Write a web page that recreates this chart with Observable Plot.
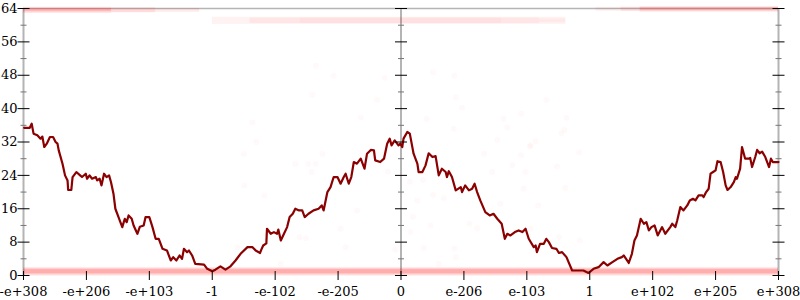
<!DOCTYPE html>
<html><head><meta charset="utf-8">
<script src="https://cdn.jsdelivr.net/npm/d3@7"></script>
<script src="https://cdn.jsdelivr.net/npm/@observablehq/plot@0.6"></script>
<style>html,body{margin:0;padding:0;background:#fff}svg{display:block}</style>
</head><body><div id="chart"></div>
<script>
// x positions are in "tick units" along the ordered float axis (-6 .. 6)
const xTickPositions = [-6,-5,-4,-3,-2,-1,0,1,2,3,4,5,6];
const xTickLabels = ["-e+308","-e+206","-e+103","-1","-e-102","-e-205","0","e-206","e-103","1","e+102","e+205","e+308"];
const yMajorTicks = [0,8,16,24,32,40,48,56,64];
const yMinorTicks = [4,12,20,28,36,44,52,60];
const axisPositions = [-6,0,6];

// moving average line
const lineX = [-5.99,-5.90,-5.87,-5.84,-5.78,-5.73,-5.70,-5.67,-5.63,-5.58,-5.53,-5.49,-5.46,-5.44,-5.38,-5.34,-5.30,-5.29,-5.24,-5.22,-5.16,-5.10,-5.07,-5.01,-4.99,-4.95,-4.91,-4.85,-4.83,-4.79,-4.76,-4.72,-4.68,-4.64,-4.61,-4.57,-4.54,-4.49,-4.46,-4.43,-4.39,-4.36,-4.33,-4.28,-4.25,-4.19,-4.15,-4.09,-4.06,-4.00,-3.95,-3.90,-3.85,-3.79,-3.72,-3.66,-3.62,-3.57,-3.52,-3.48,-3.45,-3.40,-3.37,-3.32,-3.27,-3.13,-3.08,-3.00,-2.95,-2.87,-2.79,-2.71,-2.63,-2.55,-2.44,-2.36,-2.31,-2.24,-2.22,-2.19,-2.14,-2.13,-2.07,-2.02,-1.97,-1.95,-1.91,-1.86,-1.81,-1.77,-1.72,-1.68,-1.62,-1.57,-1.53,-1.47,-1.39,-1.31,-1.26,-1.23,-1.17,-1.12,-1.07,-1.01,-0.96,-0.91,-0.88,-0.83,-0.79,-0.75,-0.70,-0.64,-0.58,-0.54,-0.48,-0.43,-0.41,-0.33,-0.27,-0.22,-0.18,-0.15,-0.10,-0.04,-0.01,0.02,0.04,0.10,0.14,0.20,0.26,0.28,0.34,0.39,0.44,0.50,0.55,0.60,0.65,0.71,0.73,0.76,0.81,0.87,0.95,0.97,1.02,1.08,1.13,1.17,1.21,1.26,1.34,1.41,1.47,1.53,1.60,1.65,1.69,1.74,1.81,1.87,1.93,1.98,2.03,2.11,2.14,2.16,2.21,2.27,2.31,2.35,2.40,2.47,2.51,2.56,2.63,2.72,2.90,2.98,3.06,3.14,3.22,3.28,3.36,3.44,3.51,3.54,3.62,3.67,3.71,3.75,3.81,3.86,3.90,3.94,3.98,4.03,4.08,4.15,4.20,4.28,4.31,4.36,4.39,4.44,4.49,4.55,4.59,4.64,4.68,4.73,4.79,4.81,4.85,4.89,4.92,4.96,5.00,5.03,5.08,5.12,5.16,5.19,5.24,5.29,5.32,5.34,5.39,5.42,5.47,5.53,5.55,5.58,5.63,5.66,5.70,5.74,5.79,5.85,5.88,5.91,6.00];
const lineY = [35.4,35.4,36.4,34,33.6,32.8,33.3,30.8,31.6,33.2,33.2,32,31.6,30,26.8,24,22.8,20.5,20.5,23.6,24.8,24,23.6,24.4,23.2,24,23.2,23.6,22.8,23.2,21.6,24.4,23.6,24,22.4,19.6,16,14,12.8,11.6,13.6,12.8,14.4,13.6,12,10,11.7,12,14,14,11.6,8.8,8.8,6.4,6,3.6,4.4,3.6,4.8,4,6.4,5.6,6,4.8,2.8,2.6,1.6,1,1.4,2.2,1.4,2.2,3.6,5.2,6.8,6.8,6,5.4,6.2,7.2,7.7,11.2,10,10.4,10,11,8.4,10,11.6,14,14.8,16,15.6,15.6,14,14.8,15.6,16,16.8,15.6,20,21.2,23.6,23.6,22,23.6,24.4,22,23.6,27.2,26.8,28,25.6,29.2,30.1,30,27.6,27.2,28,31.6,32.8,31.2,32.4,31.2,31.6,30.8,32.8,34.4,34,29.2,26.8,24.8,24.8,26.4,29.3,28.4,28.6,24,25.6,24.8,23.6,25,23.6,20.4,21.2,20,21.6,20.4,20.8,22,20,18,15.2,14.4,14.8,13.6,12.4,8.8,10,9.6,10.4,10.8,10.4,11.2,8.8,6.8,7.2,5.6,7.6,7.6,8.8,8,6.6,6.4,5.4,5.6,4.4,1.2,1.2,0.6,1.6,2,3.2,2.4,3.2,4,4.4,4.8,3,5.2,8.4,9.6,13.6,12.4,12.8,10.8,11.6,12,9.6,11.6,10,11.6,12.4,11.6,13.2,16.4,15.6,16.8,18,18.4,18,19.2,19.2,18.8,20,20.8,24.4,24.8,25.2,27.4,27.2,24.8,21.6,20.5,21.2,22.4,23.6,23.2,25.6,30.8,28,28,28.2,26,28.4,30.1,29.3,29.7,28.4,26,28,27.2,27.2];

// dense point bands (drawn as translucent strips)
const bandX1 = [-6,-6,-6,-6,-6,-4.6,-3.9,-3.0,-2.4,-1.6,1.6,2.2,3.1,3.5,3.8,3.8];
const bandX2 = [6,6,6,-4.6,-4.6,-3.9,-3.2,2.62,-1.6,1.6,2.2,2.62,3.8,3.8,6,6];
const bandY1 = [-0.2,0.1,0.4,62.8,63.2,63.0,63.1,60.2,60.4,60.4,60.4,60.6,63.3,63.3,63.1,63.4];
const bandY2 = [1.95,1.7,1.4,64.3,64.0,64.1,64.0,61.9,61.7,61.7,61.7,61.5,64.3,64.3,64.5,64.2];
const bandAlpha = [0.07,0.12,0.17,0.1,0.2,0.14,0.08,0.05,0.05,0.08,0.05,0.04,0.05,0.07,0.09,0.18];

// sparse scattered points
const scatterX = [-1.35,-1.07,-0.26,-1.41,0.51,0.85,0.87,-0.38,0.97,0.41,0.84,1.63,1.69,1.91,2.31,2.63,2.55,1.53,2.14,2.05,1.32,1.91,1.77,1.98,1.45,2.48,2.83,-0.21,0.14,0.35,1.95,2.61,0.26,0.51,0.68,1.58,2.18,0.19,1.09,1.21,0.47,2.06,0.15,2.51,-0.64,-1.25,-1.68,-1.47,-1.36,-1.42,-0.70,-0.96,-1.61,-1.51,-0.88,0.36,0.85,0.87,0.60,-1.91,-0.09,2.60,2.06,2.84,-2.36,-2.30,-2.50,-2.49,-2.17,-2.60];
const scatterY = [50.3,47.9,47.4,43.3,48.7,47.9,42.7,42.1,40.2,37.6,35.2,37.6,35.5,38.8,42.1,37.8,34.1,32.5,32.2,30.9,29.2,28.8,26.4,24.8,24.8,26.1,29.5,24.9,22.5,22.9,20.8,21.0,18.0,19.3,18.5,17.2,16.8,14.1,12.4,11.3,12.0,11.2,10.4,9.2,37.9,29.2,26.8,26.8,26.8,24.8,15.6,11.2,9.2,8.9,6.8,6.6,6.5,4.4,2.8,2.8,6.2,34.9,31.2,8.4,36.7,32.0,29.2,21.6,19.2,6.8];

const lineData = lineX.map((x, i) => ({x, y: lineY[i]}));
const bands = bandX1.map((x1, i) => ({x1, x2: bandX2[i], y1: bandY1[i], y2: bandY2[i], a: bandAlpha[i]}));
const scatter = scatterX.map((x, i) => ({x, y: scatterY[i]}));
const majorTicks = d3.cross(axisPositions, yMajorTicks).map(([x, y]) => ({x, y}));
const minorTicks = d3.cross(axisPositions, yMinorTicks).map(([x, y]) => ({x, y}));
const xTicks = xTickPositions.map(x => ({x, y: 0}));

const hTick = {draw(ctx, size) { const r = Math.sqrt(size / Math.PI); ctx.moveTo(-r, 0); ctx.lineTo(r, 0); }};
const vTick = {draw(ctx, size) { const r = Math.sqrt(size / Math.PI); ctx.moveTo(0, -r); ctx.lineTo(0, r); }};

const chart = Plot.plot({
  width: 800,
  height: 300,
  marginLeft: 23,
  marginRight: 22,
  marginTop: 8,
  marginBottom: 25,
  x: {domain: [-6, 6]},
  y: {domain: [0, 64]},
  style: {fontFamily: "DejaVu Serif", fontSize: "13px", background: "#fff", overflow: "visible"},
  marks: [
    Plot.ruleX(axisPositions, {stroke: "#b4b4b4", strokeWidth: 2}),
    Plot.ruleY([64], {stroke: "#b4b4b4", strokeWidth: 1.5}),
    Plot.rect(bands, {x1: "x1", x2: "x2", y1: "y1", y2: "y2", fill: "#f00", fillOpacity: "a"}),
    Plot.dot(scatter, {x: "x", y: "y", r: 3, fill: "#f00", fillOpacity: 0.025}),
    Plot.line(lineData, {x: "x", y: "y", stroke: "#8b0000", strokeWidth: 2.2}),
    Plot.dot(minorTicks, {x: "x", y: "y", symbol: hTick, r: 3, fill: "none", stroke: "#777", strokeWidth: 1}),
    Plot.dot(majorTicks, {x: "x", y: "y", symbol: hTick, r: 6, fill: "none", stroke: "#000", strokeWidth: 1}),
    Plot.dot(xTicks, {x: "x", y: "y", symbol: vTick, r: 4.5, fill: "none", stroke: "#000", strokeWidth: 1}),
    Plot.axisY({ticks: yMajorTicks, tickSize: 0, tickPadding: 6, label: null, fontSize: 13}),
    Plot.axisX({ticks: xTickPositions, tickSize: 0, tickPadding: 11, label: null, fontSize: 13,
      tickFormat: d => xTickLabels[xTickPositions.indexOf(d)]})
  ]
});
document.getElementById("chart").appendChild(chart);
</script>
</body></html>
